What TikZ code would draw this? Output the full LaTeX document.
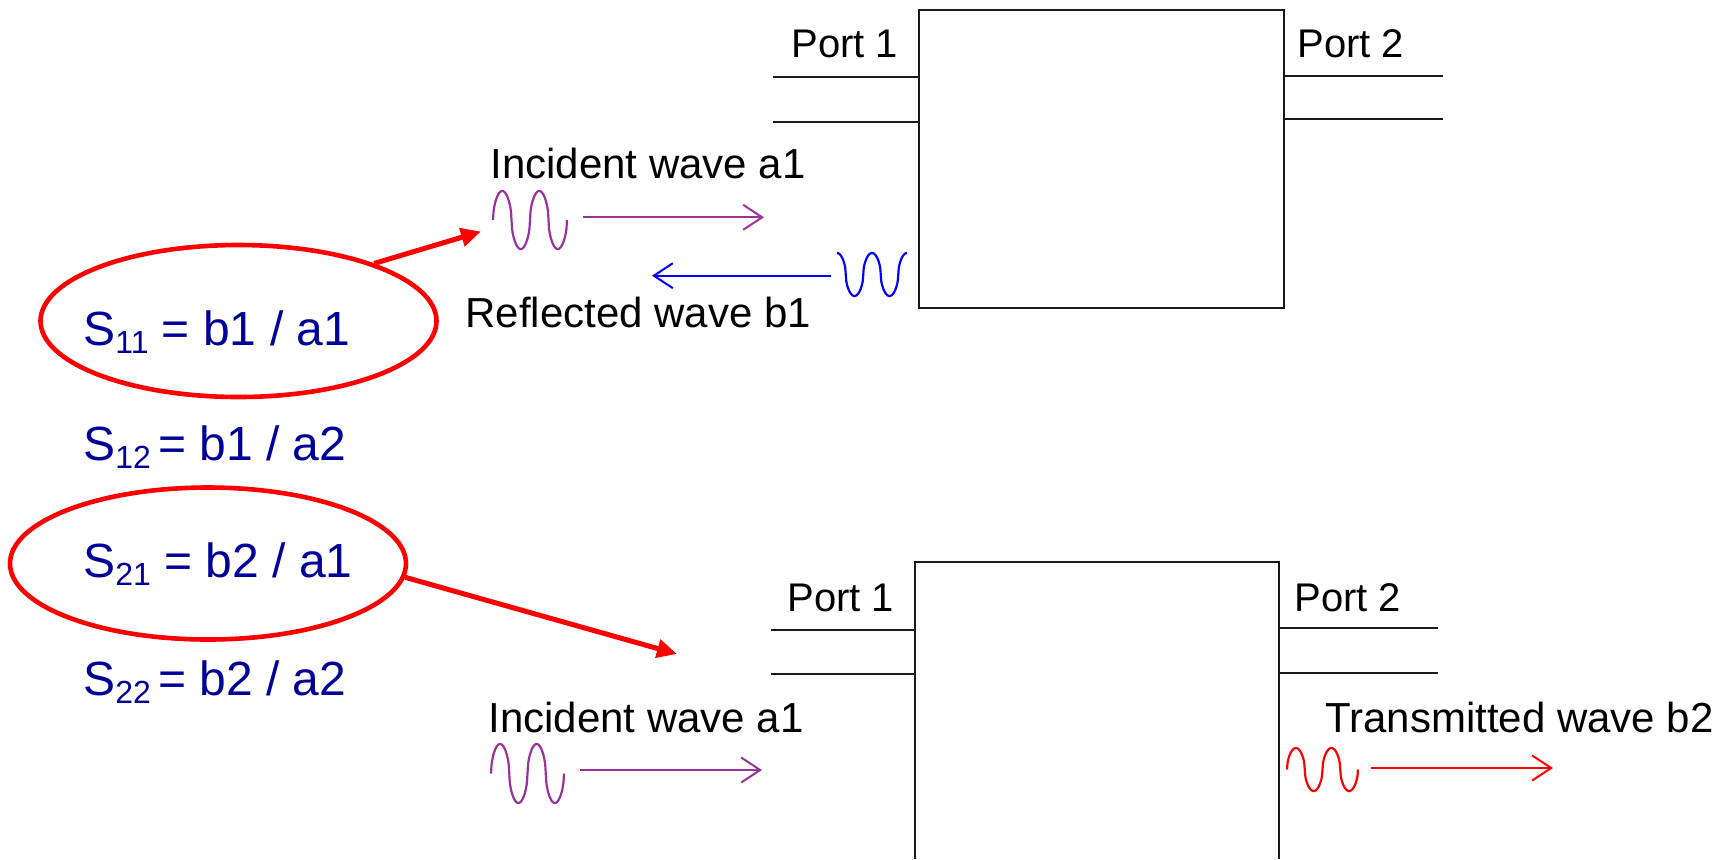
\documentclass[tikz,border=0pt]{standalone}
\usepackage{fontspec}
\setmainfont{Liberation Sans}
\usetikzlibrary{arrows.meta,shapes.geometric}
\definecolor{sblue}{RGB}{0,0,153}
\definecolor{wavepurple}{RGB}{153,51,153}
\definecolor{netgray}{RGB}{25,25,25}
% lowered index digits of an S-parameter
\newcommand\Sidx[1]{\raisebox{-0.17em}{\fontsize{16}{16}\selectfont #1}}
% rounded square-ish oscillation: sign(s)*sqrt|s|
\tikzset{declare function={osc(\t)=sin(\t)/sqrt(max(abs(sin(\t)),0.001));
                           cosc(\t)=cos(\t)/sqrt(max(abs(cos(\t)),0.001));}}

\begin{document}
\begin{tikzpicture}[x=0.5pt,y=-0.5pt,
  wavelabel/.style={anchor=base west, inner sep=0, font=\fontsize{21}{24}\selectfont},
  portlabel/.style={anchor=base west, inner sep=0, font=\fontsize{20}{24}\selectfont},
  sparam/.style={anchor=base west, inner sep=0, text=sblue, font=\fontsize{24}{28}\selectfont},
  netbox/.style={draw=netgray, line width=1pt},
  portline/.style={draw=netgray, line width=1pt},
  wave/.style={line width=1.1pt, line join=round},
  wavearrow/.style={line width=1pt, -{Straight Barb[length=9.5pt,width=12.5pt]}},
  ring/.style={ellipse, draw=red, line width=2.3pt, inner sep=0,
               minimum width=198pt, minimum height=76pt},
  pointer/.style={draw=red, line width=2.5pt, -{Triangle[length=10pt,width=9pt]}}
]
\useasboundingbox (0,0) rectangle (1729,859);

% ---------- S-parameter definitions ----------
\node[sparam] (s11) at (83,345) {S\Sidx{11} = b1 / a1};
\node[sparam] (s12) at (83,460) {S\Sidx{12}\hspace{0.15em}= b1 / a2};
\node[sparam] (s21) at (83,577) {S\Sidx{21} = b2 / a1};
\node[sparam] (s22) at (83,695) {S\Sidx{22}\hspace{0.15em}= b2 / a2};

\node[ring] (e11) at (238.5,321) {};
\node[ring] (e21) at (208,563.5) {};

% ---------- upper two-port: reflection ----------
\node[netbox, inner sep=0, anchor=north west,
      minimum width=182.5pt, minimum height=148.75pt] (dut1) at (918,9) {};
\coordinate (p1a) at (773,77);
\coordinate (p1b) at (773,121.5);
\coordinate (p2a) at (1443,75.5);
\coordinate (p2b) at (1443,119);
\draw[portline] (p1a) -- (p1a -| dut1.west);
\draw[portline] (p1b) -- (p1b -| dut1.west);
\draw[portline] (p2a) -- (p2a -| dut1.east);
\draw[portline] (p2b) -- (p2b -| dut1.east);
\node[portlabel] (port1a) at (791,57) {Port 1};
\node[portlabel] (port2a) at (1297,57) {Port 2};

\node[wavelabel] (inc1) at (490,178) {Incident wave a1};
\draw[wave, wavepurple] plot[domain=0:720, samples=145]
  ({493+\x/720*74}, {220-29*osc(\x)});
\coordinate (inc1s) at (583,217.3);
\coordinate (inc1e) at (764,217.3);
\draw[wavearrow, wavepurple] (inc1s) -- (inc1e);

\node[wavelabel] (refl) at (465,327) {Reflected wave b1};
\draw[wave, blue] plot[domain=0:720, samples=145]
  ({837+\x/720*70}, {274.5-21.5*cosc(\x)});
\coordinate (refls) at (831,275.7);
\coordinate (refle) at (652,275.7);
\draw[wavearrow, blue] (refls) -- (refle);

% ---------- lower two-port: transmission ----------
\draw[netbox] (915,859) |- (1279,562) -- (1279,859);
\coordinate (q1a) at (771,630);
\coordinate (q1b) at (771,674.3);
\coordinate (q2a) at (1438,628.3);
\coordinate (q2b) at (1438,672.7);
\draw[portline] (q1a) -- (915,630);
\draw[portline] (q1b) -- (915,674.3);
\draw[portline] (q2a) -- (1279,628.3);
\draw[portline] (q2b) -- (1279,672.7);
\node[portlabel] (port1b) at (787,611) {Port 1};
\node[portlabel] (port2b) at (1294,611) {Port 2};

\node[wavelabel] (inc2) at (488,732) {Incident wave a1};
\draw[wave, wavepurple] plot[domain=0:720, samples=145]
  ({491+\x/720*73}, {773.5-29.5*osc(\x)});
\coordinate (inc2s) at (580,770);
\coordinate (inc2e) at (762,770);
\draw[wavearrow, wavepurple] (inc2s) -- (inc2e);

\node[wavelabel] (trans) at (1325,732) {Transmitted wave b2};
\draw[wave, red] plot[domain=0:720, samples=145]
  ({1287+\x/720*71}, {769.5-21.5*osc(\x)});
\coordinate (trs) at (1371,768);
\coordinate (tre) at (1553,768);
\draw[wavearrow, red] (trs) -- (tre);

% ---------- pointers from the circled parameters ----------
\coordinate (tip1) at (481,231.5);
\coordinate (tip2) at (677,654);
\draw[pointer] (e11.23) -- (tip1);
\draw[pointer] (e21.-4) -- (tip2);
\end{tikzpicture}
\end{document}
